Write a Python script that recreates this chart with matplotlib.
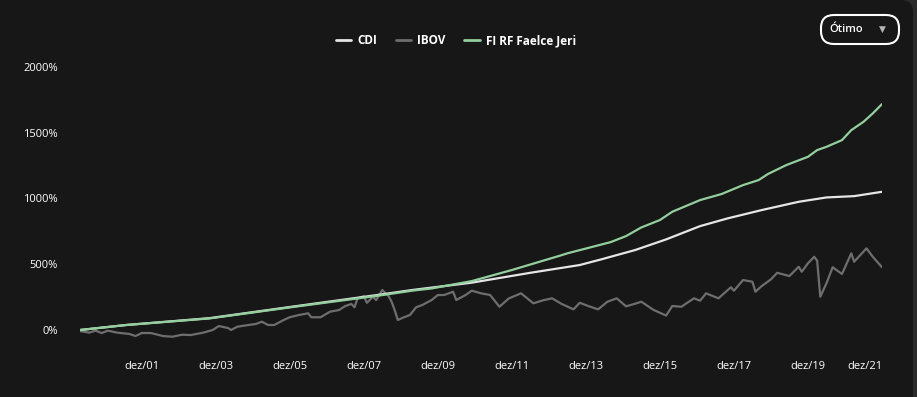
import matplotlib
matplotlib.use("Agg")
import matplotlib.pyplot as plt
from matplotlib.patches import FancyBboxPatch
from matplotlib.transforms import IdentityTransform
import pandas as pd

# ---------------- data ----------------
START = "2000-04-01"   # first observation (month offsets below count from here)

ibov_month = [0, 3, 5, 7, 9, 12, 16, 18, 20, 23, 27, 30, 33, 36, 40, 43, 45, 48, 49, 51,
              54, 57, 59, 61, 63, 66, 68, 71, 74, 75, 78, 81, 84, 86, 88, 89, 90, 92, 93, 95,
              96, 98, 100, 101, 102, 103, 105, 107, 109, 111, 114, 116, 118, 121, 122, 125,
              127, 130, 133, 136, 139, 143, 147, 150, 153, 156, 160, 162, 165, 168, 171, 174,
              177, 180, 182, 186, 190, 192, 195, 199, 201, 203, 207, 211, 212, 215, 218, 219,
              221, 224, 226, 230, 233, 234, 236, 238, 239, 240, 242, 244, 247, 250, 251, 255,
              257, 260]
ibov_value = [-8, -20, -5, -23, -5, -20, -30, -46, -23, -23, -46, -51, -36, -38, -20, 0, 30, 15, 0, 25,
              36, 46, 63, 38, 38, 76, 97, 114, 127, 97, 97, 139, 152, 182, 198, 173, 241, 258, 207, 253,
              228, 304, 258, 215, 152, 76, 97, 114, 173, 190, 228, 266, 266, 291, 228, 266,
              299, 279, 266, 177, 240, 279, 203, 225, 241, 200, 157, 207, 180, 157, 215, 241,
              180, 200, 215, 152, 110, 182, 177, 241, 223, 279, 241, 325, 299, 380, 367, 291,
              334, 385, 435, 410, 481, 443, 507, 557, 527, 253, 355, 477, 426, 583, 519, 621,
              557, 477]

cdi_month = [0, 15, 42, 69, 97, 108, 127, 146, 162, 169, 180, 190, 201, 210, 221, 233, 242, 251, 260]
cdi_value = [0, 38, 90, 178, 268, 305, 360, 435, 494, 537, 608, 689, 790, 849, 912, 975, 1008, 1018, 1051]

fund_month = [0, 15, 42, 69, 97, 108, 114, 127, 140, 156, 158, 172, 177, 182, 188, 192, 201, 208,
              215, 220, 223, 229, 236, 239, 242, 247, 250, 254, 257, 260]
fund_value = [0, 38, 88, 175, 262, 300, 316, 372, 456, 568, 583, 668, 714, 780, 836, 899, 988, 1034,
              1102, 1140, 1186, 1254, 1317, 1368, 1393, 1444, 1520, 1583, 1647, 1718]

series_names = ["CDI", "IBOV", "FI RF Faelce Jeri"]
series_colors = ["#e6e6e6", "#6e6e6e", "#93cf9c"]

y_ticks = [0, 500, 1000, 1500, 2000]
x_tick_dates = ["2001-12-01", "2003-12-01", "2005-12-01", "2007-12-01", "2009-12-01",
                "2011-12-01", "2013-12-01", "2015-12-01", "2017-12-01", "2019-12-01", "2021-12-01"]
x_tick_labels = ["dez/01", "dez/03", "dez/05", "dez/07", "dez/09", "dez/11",
                 "dez/13", "dez/15", "dez/17", "dez/19", "dez/21"]
button_label = "Ótimo"

# ---------------- helpers ----------------
start = pd.Timestamp(START)
def to_dates(months):
    return [start + pd.DateOffset(months=int(m)) for m in months]

FONT = ["Open Sans", "DejaVu Sans"]
plt.rcParams["font.family"] = FONT

W, H, DPI = 917, 397, 100
BG = "#171717"
fig = plt.figure(figsize=(W / DPI, H / DPI), dpi=DPI, facecolor="#2b2b2b")

# dark card with rounded corner
card = FancyBboxPatch((-30, -30), 913 + 30, H + 30,
                      boxstyle="round,pad=0,rounding_size=12",
                      transform=IdentityTransform(), facecolor=BG,
                      edgecolor="none", zorder=-10)
fig.patches.append(card)

# axes: y pixel(0%) = 330, y pixel(2000%) = 67
ymin, ymax = -100, 2100
px_per = (330 - 67) / 2000.0
bot_px = 330 + (0 - ymin) * px_per
top_px = 330 - (ymax) * px_per
ax = fig.add_axes([80 / W, (H - bot_px) / H, (882 - 80) / W, (bot_px - top_px) / H])
ax.set_facecolor("none")
ax.set_zorder(2)

lines = []
for name, col, (mm, vv), z in zip(series_names, series_colors,
                                  [(cdi_month, cdi_value), (ibov_month, ibov_value),
                                   (fund_month, fund_value)], [3, 2, 4]):
    ln, = ax.plot(to_dates(mm), vv, color=col, lw=1.6, label=name, zorder=z,
                  solid_joinstyle="round", solid_capstyle="round")
    lines.append(ln)

ax.set_ylim(ymin, ymax)
ax.set_xlim(start, start + pd.DateOffset(months=260))
ax.set_yticks(y_ticks)
ax.set_yticklabels([f"{v}%" for v in y_ticks])
ax.set_xticks([pd.Timestamp(d) for d in x_tick_dates])
ax.set_xticklabels(x_tick_labels)
ax.tick_params(axis="both", length=0, colors="white", labelsize=8)
ax.tick_params(axis="y", pad=16)
ax.tick_params(axis="x", pad=13)
ax.get_xticklabels()[-1].set_ha("right")
for s in ax.spines.values():
    s.set_visible(False)
ax.grid(False)

leg = fig.legend(handles=lines, labels=series_names, loc="center",
                 bbox_to_anchor=(0.497, (H - 41) / H), ncol=3, frameon=False,
                 handlelength=1.3, handletextpad=0.5, columnspacing=1.6,
                 prop={"family": FONT, "weight": "bold", "size": 8.5})
for t in leg.get_texts():
    t.set_color("white")
for h in leg.legend_handles:
    h.set_linewidth(2)

# "Ótimo" dropdown button
btn = FancyBboxPatch((821, H - 44), 78, 29, boxstyle="round,pad=0,rounding_size=13",
                     transform=IdentityTransform(), facecolor="none",
                     edgecolor="white", linewidth=1.5, zorder=5)
fig.patches.append(btn)
fig.text(846 / W, (H - 29.5) / H, button_label, color="white", fontsize=8,
         ha="center", va="center", fontweight="semibold")
fig.text(882 / W, (H - 29) / H, "\u25BC", color="#b5b5b5", fontsize=6.5,
         ha="center", va="center", family=["DejaVu Sans"])

fig.savefig("out.png", dpi=DPI, facecolor=fig.get_facecolor())
